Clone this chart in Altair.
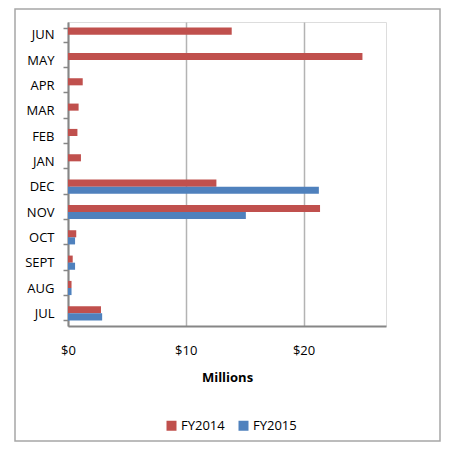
import altair as alt
import pandas as pd

months = ["JUN", "MAY", "APR", "MAR", "FEB", "JAN", "DEC", "NOV", "OCT", "SEPT", "AUG", "JUL"]
fy2014 = [13.9, 25.0, 1.25, 0.9, 0.8, 1.1, 12.6, 21.4, 0.7, 0.4, 0.3, 2.8]
fy2015 = [None, None, None, None, None, None, 21.3, 15.1, 0.6, 0.6, 0.3, 2.9]
series = ["FY2014", "FY2015"]
colors = ["#C0504D", "#4F81BD"]
x_ticks = [0, 10, 20]

rows = []
for m, a, b in zip(months, fy2014, fy2015):
    rows.append({"month": m, "series": "FY2014", "value": a})
    if b is not None:
        rows.append({"month": m, "series": "FY2015", "value": b})
df = pd.DataFrame(rows)

FONT = "Open Sans"
W, H = 318, 304

bars = alt.Chart(df).mark_bar().encode(
    y=alt.Y("month:N", sort=months,
            scale=alt.Scale(paddingInner=0.44, paddingOuter=0.22),
            axis=alt.Axis(title=None, tickBand="extent", tickSize=5, tickColor="#868686",
                          tickWidth=1.5, domainColor="#868686", domainWidth=2,
                          labelFont=FONT, labelFontSize=13,
                          labelColor="#000000", labelPadding=9, grid=False)),
    yOffset=alt.YOffset("series:N", sort=series),
    x=alt.X("value:Q", scale=alt.Scale(domain=[0, 27], nice=False),
            axis=alt.Axis(values=x_ticks, labelExpr="'$' + datum.value", title="Millions",
                          titleFont=FONT, titleFontSize=13, titleFontWeight="bold",
                          titleColor="#000000", titlePadding=14, labelFont=FONT,
                          labelFontSize=13, labelColor="#000000", labelPadding=18,
                          ticks=False, domainColor="#868686", domainWidth=2,
                          gridColor="#b3b3b3", gridWidth=1.5, labelFlush=False)),
    color=alt.Color("series:N", sort=series,
                    scale=alt.Scale(domain=series, range=colors),
                    legend=alt.Legend(title=None, orient="none", direction="horizontal",
                                      legendX=97, legendY=397, symbolType="square",
                                      symbolSize=100, symbolStrokeWidth=0,
                                      labelFont=FONT, labelFontSize=13,
                                      labelColor="#000000", columnPadding=12,
                                      labelOffset=3)),
)

frame = alt.Chart(pd.DataFrame({"k": [0]})).mark_rect(
    fill=None, stroke="#a6a6a6", strokeWidth=1.5
).encode(x=alt.value(-53), x2=alt.value(372), y=alt.value(-13), y2=alt.value(419))

chart = alt.layer(frame, bars).properties(
    width=W, height=H,
    autosize=alt.AutoSizeParams(type="none"),
    padding={"left": 60, "top": 14, "right": 56, "bottom": 117},
).configure_view(stroke=None).configure(background="#ffffff")

chart.save("out.html", embed_options={"renderer": "svg", "actions": False})
